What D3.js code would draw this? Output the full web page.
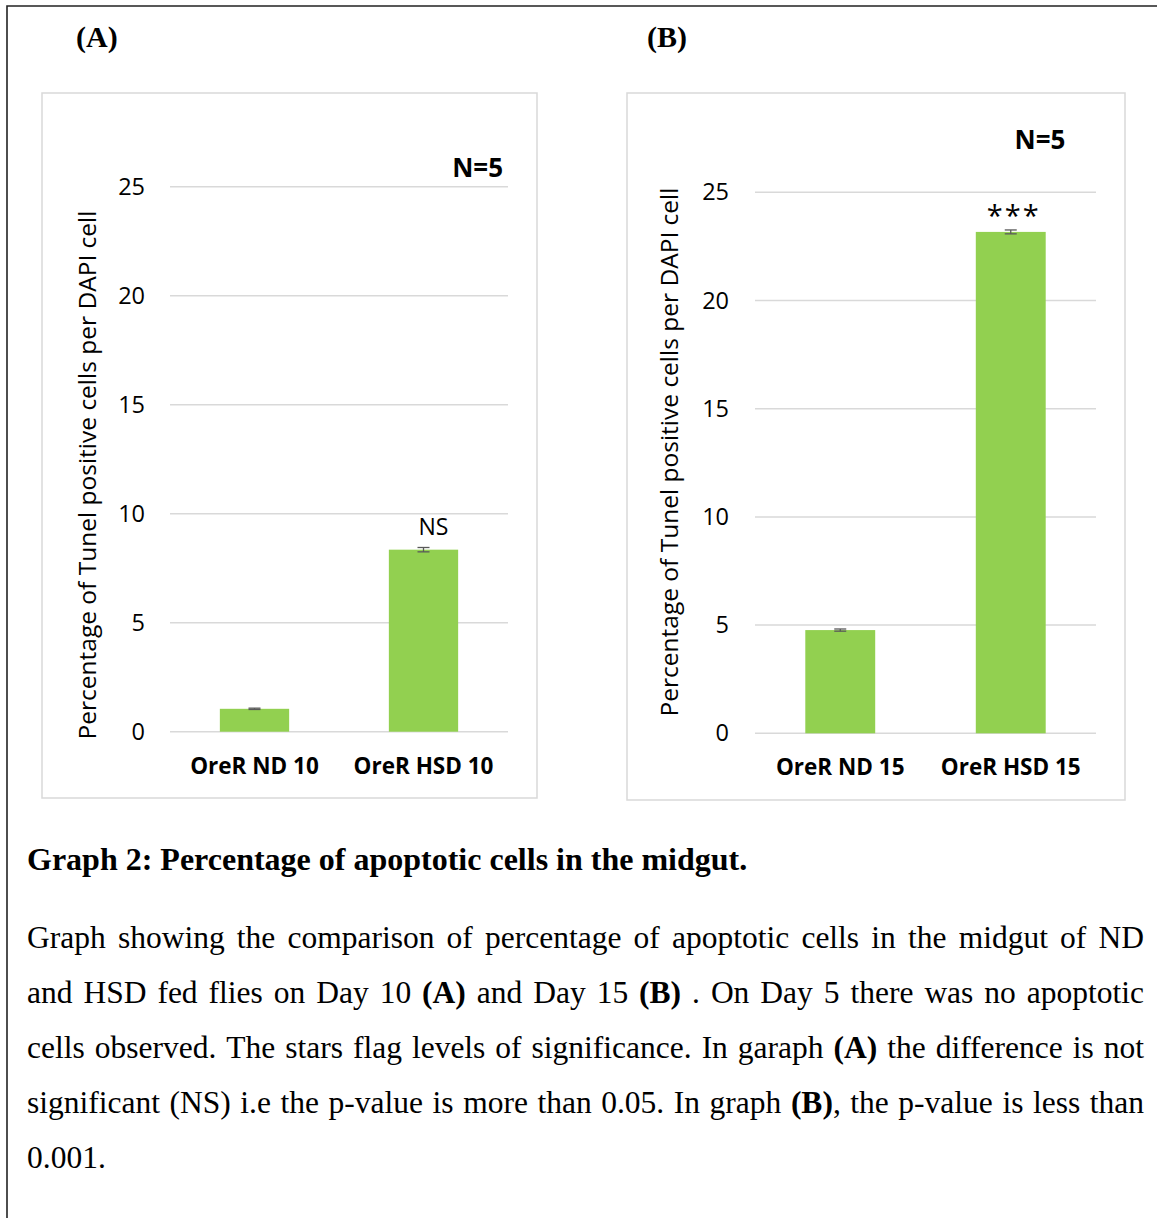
<!DOCTYPE html>
<html>
<head>
<meta charset="utf-8">
<script src="https://cdn.jsdelivr.net/npm/d3@7"></script>
<style>
  html, body { margin: 0; padding: 0; background: #fff; }
  svg { display: block; }
</style>
</head>
<body>
<svg id="fig" width="1157" height="1218"></svg>
<script>
// Day 10 panel
const categoriesA = ["OreR ND 10", "OreR HSD 10"];
const valuesA = [1.05, 8.35];
const errorsA = [0.03, 0.1];
const markA = ["", "NS"];

// Day 15 panel
const categoriesB = ["OreR ND 15", "OreR HSD 15"];
const valuesB = [4.77, 23.17];
const errorsB = [0.05, 0.09];
const markB = ["", "***"];

const yTicks = [0, 5, 10, 15, 20, 25];
const yLabel = "Percentage of Tunel positive cells per DAPI cell";
const nLabel = "N=5";

const captionTitle = "Graph 2: Percentage of apoptotic cells in the midgut.";
// Caption lines; words wrapped in ** are bold
const captionLines = [
  "Graph showing the comparison of percentage of apoptotic cells in the midgut of ND",
  "and HSD fed flies on Day 10 **(A)** and Day 15 **(B)** . On Day 5 there was no apoptotic",
  "cells observed. The stars flag levels of significance. In garaph **(A)** the difference is not",
  "significant (NS) i.e the p-value is more than 0.05. In graph **(B)**, the p-value is less than",
  "0.001."
];

const svg = d3.select("#fig");
const sans = "'Open Sans', 'Noto Sans', sans-serif";
const serif = "'Liberation Serif', 'Times New Roman', serif";
const barColor = "#92d050";
const gridColor = "#d9d9d9";

// outer page frame (right and bottom edges run off the page)
svg.append("path")
  .attr("d", "M7,1230 V6 H1170")
  .attr("fill", "none").attr("stroke", "#222").attr("stroke-width", 1.6);

function panel(cfg) {
  const g = svg.append("g");
  g.append("rect")
    .attr("x", cfg.frame[0]).attr("y", cfg.frame[1])
    .attr("width", cfg.frame[2]).attr("height", cfg.frame[3])
    .attr("fill", "#fff").attr("stroke", gridColor).attr("stroke-width", 1.5);

  const x = d3.scaleBand().domain(cfg.categories)
    .range([cfg.plot.left, cfg.plot.right])
    .paddingInner(0.59).paddingOuter(0.295);
  const y = d3.scaleLinear().domain([0, 25]).range([cfg.plot.bottom, cfg.plot.top]);

  // gridlines + tick labels
  g.selectAll("line.grid").data(y.ticks(5).filter(t => yTicks.includes(t))).join("line").attr("class", "grid")
    .attr("x1", cfg.plot.left).attr("x2", cfg.plot.right)
    .attr("y1", d => y(d)).attr("y2", d => y(d))
    .attr("stroke", gridColor).attr("stroke-width", 1.5);
  const yAxis = d3.axisLeft(y).tickValues(yTicks).tickSize(0).tickPadding(0);
  const ax = g.append("g").attr("transform", `translate(${cfg.tickX},0)`).call(yAxis);
  ax.select(".domain").remove();
  ax.selectAll("text")
    .attr("font-family", sans).attr("font-size", 23.5).attr("fill", "#000");

  // bars
  const data = cfg.categories.map((c, i) => ({ c, v: cfg.values[i], e: cfg.errors[i], m: cfg.marks[i] }));
  g.selectAll("rect.bar").data(data).join("rect").attr("class", "bar")
    .attr("x", d => x(d.c)).attr("width", x.bandwidth())
    .attr("y", d => y(d.v)).attr("height", d => y(0) - y(d.v))
    .attr("fill", barColor);

  // error bars
  const cx = d => x(d.c) + x.bandwidth() / 2;
  const eg = g.selectAll("g.err").data(data).join("g").attr("class", "err")
    .attr("stroke", "#595959").attr("stroke-width", 1.3);
  eg.append("line")
    .attr("x1", cx).attr("x2", cx)
    .attr("y1", d => y(d.v + d.e)).attr("y2", d => y(d.v - d.e));
  eg.append("line")
    .attr("x1", d => cx(d) - 6).attr("x2", d => cx(d) + 6)
    .attr("y1", d => y(d.v + d.e)).attr("y2", d => y(d.v + d.e));
  eg.append("line")
    .attr("x1", d => cx(d) - 6).attr("x2", d => cx(d) + 6)
    .attr("y1", d => y(d.v - d.e)).attr("y2", d => y(d.v - d.e));

  // significance marks
  g.selectAll("text.mark").data(data.filter(d => d.m)).join("text").attr("class", "mark")
    .attr("x", d => cx(d) + (d.m === "***" ? 3 : 10))
    .attr("y", d => y(d.v) - cfg.markGap)
    .attr("text-anchor", "middle").attr("font-family", sans)
    .attr("font-size", d => d.m === "***" ? 29 : 23)
    .attr("letter-spacing", d => d.m === "***" ? 2 : 0)
    .attr("fill", "#000").text(d => d.m);

  // category labels
  g.selectAll("text.cat").data(cfg.categories).join("text").attr("class", "cat")
    .attr("x", d => x(d) + x.bandwidth() / 2).attr("y", cfg.plot.bottom + 42)
    .attr("text-anchor", "middle").attr("font-family", sans).attr("font-weight", 700)
    .attr("font-size", 22.5).attr("fill", "#000").text(d => d);

  // y-axis title
  g.append("text")
    .attr("transform", `translate(${cfg.yLabelX},${cfg.yLabelY}) rotate(-90)`)
    .attr("text-anchor", "middle").attr("font-family", sans).attr("font-size", 24.5)
    .attr("fill", "#000").text(yLabel);

  // sample size
  g.append("text")
    .attr("x", cfg.nPos[0]).attr("y", cfg.nPos[1]).attr("text-anchor", cfg.nAnchor)
    .attr("font-family", sans).attr("font-weight", 700).attr("font-size", 26)
    .attr("fill", "#000").text(nLabel);

  // panel letter
  g.append("text")
    .attr("x", cfg.letterX).attr("y", 47)
    .attr("font-family", serif).attr("font-weight", 700).attr("font-size", 30)
    .attr("fill", "#000").text(cfg.letter);
}

panel({
  letter: "(A)", letterX: 76,
  frame: [42, 93, 495, 705],
  plot: { left: 170, right: 508, top: 186.7, bottom: 731.7 },
  categories: categoriesA, values: valuesA, errors: errorsA, marks: markA,
  tickX: 145, yLabelX: 96, yLabelY: 475, markGap: 15,
  nPos: [503, 177], nAnchor: "end"
});

panel({
  letter: "(B)", letterX: 647,
  frame: [627, 93, 498, 707],
  plot: { left: 755, right: 1096, top: 192.3, bottom: 733.3 },
  categories: categoriesB, values: valuesB, errors: errorsB, marks: markB,
  tickX: 729, yLabelX: 678, yLabelY: 452, markGap: 6,
  nPos: [1040, 149], nAnchor: "middle"
});

// caption
svg.append("text")
  .attr("x", 27).attr("y", 870)
  .attr("font-family", serif).attr("font-weight", 700).attr("font-size", 32)
  .attr("fill", "#000").text(captionTitle);

const capLeft = 27, capRight = 1144, capTop = 948, capStep = 55, capSize = 31.5;
captionLines.forEach((line, li) => {
  const words = line.split(" ");
  const t = svg.append("text").attr("font-family", serif).attr("font-size", capSize)
    .attr("fill", "#000");
  const nodes = words.map(w => {
    const wt = t.append("tspan").attr("y", capTop + li * capStep);
    // alternate regular / bold runs split on **
    w.split("**").forEach((p, i) => {
      if (!p) return;
      wt.append("tspan").attr("font-weight", i % 2 === 1 ? 700 : 400).text(p);
    });
    return wt;
  });
  const widths = nodes.map(n => n.node().getComputedTextLength());
  const total = d3.sum(widths);
  const last = li === captionLines.length - 1;
  const spaceW = last ? capSize * 0.25 : (capRight - capLeft - total) / (words.length - 1);
  let px = capLeft;
  nodes.forEach((n, i) => { n.attr("x", px); px += widths[i] + spaceW; });
});
</script>
</body>
</html>
